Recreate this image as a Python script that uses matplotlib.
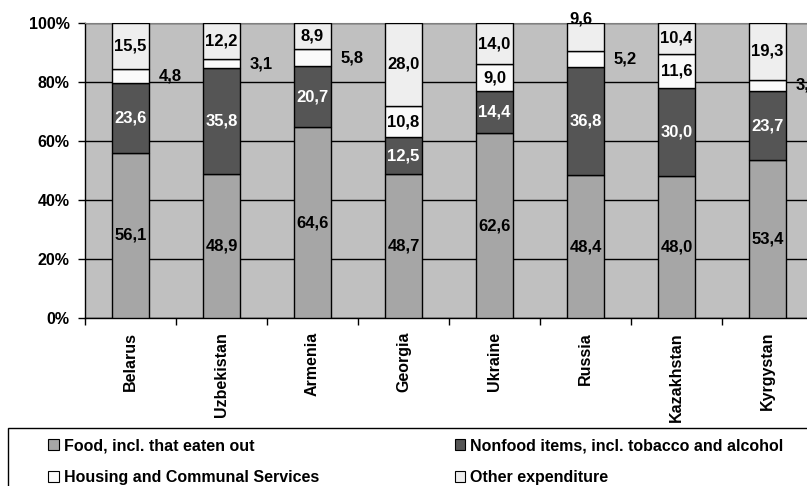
import matplotlib
matplotlib.use("Agg")
import numpy as np
import matplotlib.pyplot as plt
from matplotlib.patches import Rectangle

# Structure of household consumption expenditure, %
countries = ["Belarus", "Uzbekistan", "Armenia", "Georgia",
             "Ukraine", "Russia", "Kazakhstan", "Kyrgystan"]
food = [56.1, 48.9, 64.6, 48.7, 62.6, 48.4, 48.0, 53.4]
nonfood = [23.6, 35.8, 20.7, 12.5, 14.4, 36.8, 30.0, 23.7]
housing = [4.8, 3.1, 5.8, 10.8, 9.0, 5.2, 11.6, 3.6]
other = [15.5, 12.2, 8.9, 28.0, 14.0, 9.6, 10.4, 19.3]

series_names = ["Food, incl. that eaten out",
                "Nonfood items, incl. tobacco and alcohol",
                "Housing and Communal Services",
                "Other expenditure"]
colors = ["#a6a6a6", "#555555", "#fafafa", "#eeeeee"]
label_colors = ["black", "white", "black", "black"]

plt.rcParams["font.family"] = ["Liberation Sans", "DejaVu Sans"]
plt.rcParams["font.weight"] = "bold"

fig = plt.figure(figsize=(8.07, 4.86), dpi=100)
ax = fig.add_axes([85 / 807, 168 / 486, 728 / 807, 295 / 486])
ax.set_facecolor("#c0c0c0")

x = np.arange(len(countries))
width = 0.4
data = [food, nonfood, housing, other]

bottom = np.zeros(len(countries))
handles = []
for k, vals in enumerate(data):
    vals = np.array(vals)
    h = ax.bar(x, vals, width, bottom=bottom, color=colors[k],
               edgecolor="black", linewidth=1, zorder=3,
               label=series_names[k])
    handles.append(h)
    for i, v in enumerate(vals):
        mid = bottom[i] + v / 2
        tx = x[i]
        if k == 2 and v < 9:
            # small housing shares go beside the bar
            tx = x[i] + 0.44
        if k == 3 and countries[i] == "Russia":
            mid = 101.5
            tx = x[i] - 0.05
        ax.text(tx, mid, f"{v:.1f}".replace(".", ","), ha="center",
                va="center", fontsize=12, fontweight="bold",
                color=label_colors[k], zorder=4, clip_on=False)
    bottom += vals

ax.set_xlim(-0.5, len(countries) - 0.5)
ax.set_ylim(0, 100)
ax.set_yticks([0, 20, 40, 60, 80, 100])
ax.set_yticklabels([f"{t}%" for t in range(0, 101, 20)])
ax.yaxis.grid(True, color="black", linewidth=1, zorder=1)
ax.set_axisbelow(True)

ax.set_xticks(x)
ax.set_xticklabels(countries, rotation=90, fontsize=11.5)
ax.set_xticks(np.arange(len(countries) + 1) - 0.5, minor=True)
ax.tick_params(axis="x", which="major", length=0, pad=10)
ax.tick_params(axis="x", which="minor", length=5, width=1, direction="out")
ax.tick_params(axis="y", length=5, width=1, direction="out", pad=6,
               labelsize=11.5)

for side in ["top", "right"]:
    ax.spines[side].set_color("#808080")
for side in ["left", "bottom"]:
    ax.spines[side].set_color("black")
    ax.spines[side].set_linewidth(1)

# legend box, filled row by row
fig.patches.append(Rectangle((8 / 807, -0.1), 1.0, 58 / 486 + 0.1,
                             transform=fig.transFigure, facecolor="white",
                             edgecolor="black", linewidth=1))
order = [0, 2, 1, 3]
leg = fig.legend(handles=[handles[j] for j in order], loc="upper left",
                 bbox_to_anchor=(34 / 807, 1 - 424 / 486), ncol=2,
                 frameon=False, fontsize=11.5, handlelength=0.65,
                 handleheight=0.65, handletextpad=0.3, columnspacing=8.5,
                 labelspacing=1.05)
for p in leg.get_patches():
    p.set_edgecolor("black")
    p.set_linewidth(0.8)

fig.savefig("out.png", dpi=100)
